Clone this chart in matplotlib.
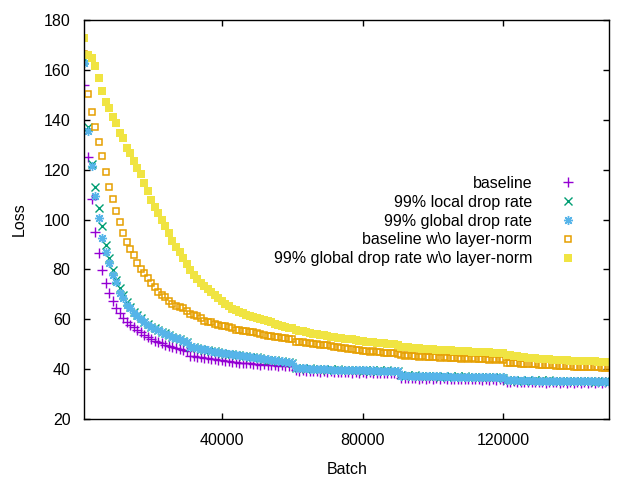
import matplotlib
matplotlib.use("Agg")
import matplotlib.pyplot as plt

plt.rcParams['font.family'] = ['Liberation Sans', 'DejaVu Sans']
plt.rcParams['font.size'] = 11.5

batch = list(range(1000, 150001, 1000))

baseline = [
    154.0, 125.2, 108.1, 94.9, 86.5, 79.8, 74.4, 70.4, 67.5, 64.4,
    62.4, 60.5, 59.0, 57.8, 56.8, 55.7, 54.8, 53.7, 52.8, 52.0,
    51.5, 51.0, 50.4, 49.7, 49.3, 48.8, 48.4, 47.9, 47.6, 47.3,
    45.4, 45.3, 45.0, 44.9, 44.6, 44.5, 44.2, 44.1, 43.7, 43.6,
    43.3, 43.2, 43.0, 42.9, 42.6, 42.5, 42.3, 42.3, 42.1, 41.9,
    41.8, 41.9, 41.7, 41.5, 41.6, 41.4, 41.5, 41.3, 41.4, 41.2,
    39.5, 39.3, 39.5, 39.2, 39.4, 39.1, 39.3, 39.0, 39.2, 38.9,
    39.1, 38.9, 38.8, 39.0, 38.7, 38.9, 38.6, 38.8, 38.6, 38.8,
    38.5, 38.7, 38.4, 38.6, 38.4, 38.6, 38.3, 38.5, 38.3, 38.5,
    36.5, 36.3, 36.6, 36.3, 36.5, 36.2, 36.4, 36.2, 36.4, 36.1,
    36.3, 36.1, 36.3, 36.0, 36.2, 36.0, 36.2, 35.9, 36.1, 35.9,
    36.1, 35.9, 36.0, 35.8, 36.0, 35.8, 36.0, 35.8, 35.9, 35.7,
    35.0, 34.8, 35.1, 34.8, 35.0, 34.7, 35.0, 34.7, 34.9, 34.7,
    34.9, 34.6, 34.9, 34.7, 34.8, 34.6, 34.9, 34.6, 34.8, 34.6,
    34.8, 34.5, 34.8, 34.6, 34.7, 34.5, 34.8, 34.5, 34.7, 34.6]

local_drop = [
    164.0, 137.0, 122.5, 113.0, 104.5, 97.4, 89.8, 84.4, 79.8, 75.8,
    72.4, 69.7, 67.0, 65.0, 63.0, 61.7, 60.4, 59.0, 58.1, 57.0,
    56.4, 55.7, 55.0, 54.4, 53.7, 53.0, 52.5, 52.0, 51.5, 51.0,
    49.0, 48.8, 48.4, 48.2, 47.8, 47.6, 47.2, 47.1, 46.7, 46.5,
    46.2, 46.1, 45.9, 45.8, 45.5, 45.4, 45.1, 45.0, 44.8, 44.7,
    44.3, 44.1, 43.8, 43.8, 43.5, 43.4, 43.1, 43.0, 42.7, 42.6,
    40.6, 40.4, 40.5, 40.2, 40.3, 40.1, 40.2, 39.9, 40.1, 39.8,
    40.0, 39.7, 39.9, 39.6, 39.8, 39.6, 39.7, 39.5, 39.7, 39.4,
    39.6, 39.4, 39.6, 39.3, 39.5, 39.3, 39.5, 39.2, 39.4, 39.2,
    37.5, 37.4, 37.6, 37.3, 37.5, 37.2, 37.4, 37.2, 37.3, 37.1,
    37.3, 37.0, 37.2, 37.0, 37.2, 36.9, 37.1, 36.9, 37.1, 36.8,
    37.0, 36.8, 37.0, 36.7, 36.9, 36.7, 36.9, 36.7, 36.8, 36.6,
    35.7, 35.5, 35.7, 35.4, 35.6, 35.4, 35.6, 35.3, 35.5, 35.3,
    35.5, 35.2, 35.5, 35.3, 35.4, 35.2, 35.4, 35.1, 35.4, 35.2,
    35.3, 35.1, 35.3, 35.1, 35.3, 35.0, 35.2, 35.1, 35.2, 35.0]

global_drop = [
    163.0, 135.5, 121.7, 109.6, 100.7, 92.5, 86.9, 82.4, 77.8, 75.1,
    70.4, 68.4, 65.7, 64.4, 62.4, 61.4, 60.2, 58.9, 57.9, 57.0,
    56.2, 55.6, 54.9, 54.3, 53.6, 53.1, 52.4, 52.1, 51.4, 51.1,
    48.9, 48.7, 48.5, 48.1, 47.9, 47.5, 47.3, 47.0, 46.8, 46.4,
    46.3, 46.0, 45.9, 45.7, 45.6, 45.3, 45.2, 44.9, 44.9, 44.6,
    44.4, 44.0, 43.9, 43.7, 43.6, 43.3, 43.2, 42.9, 42.8, 42.5,
    40.5, 40.5, 40.3, 40.3, 40.1, 40.2, 40.0, 40.0, 39.9, 39.9,
    39.8, 39.8, 39.7, 39.7, 39.7, 39.6, 39.6, 39.6, 39.5, 39.5,
    39.5, 39.4, 39.5, 39.4, 39.4, 39.3, 39.4, 39.3, 39.3, 39.3,
    37.4, 37.5, 37.3, 37.4, 37.3, 37.3, 37.2, 37.3, 37.1, 37.2,
    37.1, 37.1, 37.0, 37.1, 36.9, 37.0, 36.9, 37.0, 36.8, 36.9,
    36.8, 36.9, 36.8, 36.8, 36.7, 36.8, 36.7, 36.8, 36.6, 36.7,
    35.6, 35.6, 35.5, 35.6, 35.4, 35.5, 35.4, 35.5, 35.3, 35.4,
    35.3, 35.4, 35.3, 35.3, 35.2, 35.3, 35.2, 35.3, 35.2, 35.2,
    35.1, 35.2, 35.1, 35.2, 35.1, 35.1, 35.0, 35.1, 35.0, 35.1]

baseline_no_ln = [
    166.6, 150.3, 143.0, 137.0, 131.0, 125.7, 118.9, 112.9, 108.1, 103.3,
    99.1, 94.5, 90.9, 88.2, 85.8, 82.4, 80.2, 78.4, 76.4, 74.4,
    72.8, 71.0, 69.7, 68.8, 67.3, 66.2, 65.3, 64.8, 64.4, 63.4,
    62.0, 61.6, 61.3, 60.4, 59.4, 59.1, 58.9, 58.2, 57.7, 57.5,
    57.3, 56.8, 56.4, 55.7, 55.6, 55.4, 55.3, 55.0, 54.8, 54.4,
    54.1, 53.8, 53.4, 53.2, 53.0, 52.8, 52.6, 52.4, 52.2, 52.0,
    51.1, 50.8, 50.8, 50.4, 50.4, 50.1, 50.1, 49.8, 49.8, 49.6,
    49.4, 49.0, 48.9, 48.4, 48.4, 48.0, 47.9, 47.6, 47.7, 47.3,
    47.4, 47.0, 47.1, 46.8, 46.8, 46.5, 46.6, 46.3, 46.4, 46.2,
    45.6, 45.4, 45.5, 45.2, 45.3, 45.0, 45.1, 44.8, 44.9, 44.7,
    44.8, 44.6, 44.8, 44.5, 44.6, 44.4, 44.5, 44.2, 44.4, 44.1,
    44.3, 44.0, 44.2, 43.9, 44.1, 43.8, 44.0, 43.7, 43.9, 43.6,
    42.6, 42.5, 42.4, 42.3, 42.2, 42.1, 42.0, 41.9, 41.9, 41.8,
    41.7, 41.6, 41.6, 41.5, 41.4, 41.3, 41.2, 41.1, 41.1, 41.0,
    41.0, 40.9, 40.9, 40.8, 40.8, 40.7, 40.7, 40.6, 40.6, 40.6]

global_no_ln = [
    173.0, 166.0, 165.0, 161.5, 156.7, 151.5, 147.0, 144.7, 141.0, 138.7,
    134.7, 132.7, 128.7, 126.7, 123.5, 120.7, 118.3, 114.6, 111.4, 107.8,
    105.0, 102.6, 100.0, 97.5, 94.5, 91.5, 89.0, 87.0, 84.5, 82.0,
    79.8, 77.8, 76.0, 74.5, 73.2, 72.2, 70.9, 69.6, 68.5, 67.2,
    66.2, 65.2, 64.3, 63.7, 63.1, 62.4, 61.8, 61.3, 60.9, 60.6,
    60.2, 59.8, 59.3, 58.8, 58.3, 57.9, 57.5, 57.1, 56.7, 56.4,
    55.8, 55.5, 55.2, 54.9, 54.6, 54.3, 54.1, 53.8, 53.6, 53.4,
    53.1, 52.9, 52.7, 52.5, 52.3, 52.2, 52.0, 51.8, 51.5, 51.3,
    51.1, 50.9, 50.8, 50.6, 50.5, 50.4, 50.2, 50.1, 49.9, 49.7,
    48.9, 48.8, 48.7, 48.6, 48.5, 48.3, 48.2, 48.1, 48.0, 47.9,
    47.8, 47.7, 47.7, 47.6, 47.5, 47.4, 47.3, 47.2, 47.2, 47.1,
    47.0, 47.0, 46.9, 46.8, 46.8, 46.7, 46.6, 46.6, 46.5, 46.4,
    45.7, 45.5, 45.3, 45.1, 44.9, 44.8, 44.6, 44.5, 44.3, 44.2,
    44.1, 44.0, 43.9, 43.8, 43.7, 43.6, 43.5, 43.5, 43.4, 43.4,
    43.3, 43.3, 43.2, 43.2, 43.1, 43.1, 43.0, 43.0, 43.0, 42.9]

fig = plt.figure(figsize=(6.4, 4.8), dpi=100)
ax = fig.add_axes([0.132, 0.127, 0.8195, 0.831])

ax.plot(batch, baseline, ls='none', marker='+', ms=6.5, mew=1, color='#9400D3',
        label='baseline')
ax.plot(batch, local_drop, ls='none', marker='x', ms=5.5, mew=1, color='#009E73',
        label='99% local drop rate')
ax.plot(batch, global_drop, ls='none', marker=(8, 2, 0), ms=6.5, mew=1, color='#56B4E9',
        label='99% global drop rate')
ax.plot(batch, baseline_no_ln, ls='none', marker='s', ms=5, mew=1.1, mfc='none',
        color='#E69F00', label='baseline w\\o layer-norm')
ax.plot(batch, global_no_ln, ls='none', marker='s', ms=5.5, mew=0, color='#F0E442',
        label='99% global drop rate w\\o layer-norm')

ax.set_xlim(1000, 150000)
ax.set_ylim(20, 180)
ax.set_xticks([40000, 80000, 120000])
ax.set_yticks(range(20, 181, 20))
ax.tick_params(direction='in', top=True, right=True, length=4, width=1, pad=10)
for s in ax.spines.values():
    s.set_linewidth(1)

ax.set_xlabel('Batch', labelpad=10)
ax.set_ylabel('Loss', labelpad=12)

ax.legend(loc='upper right', bbox_to_anchor=(0.919, 0.650), bbox_transform=fig.transFigure,
          frameon=False, markerfirst=False, handlelength=1.5, handletextpad=1.5,
          labelspacing=0.24, borderpad=0, fontsize=11.5)

fig.savefig('out.png', dpi=100)
